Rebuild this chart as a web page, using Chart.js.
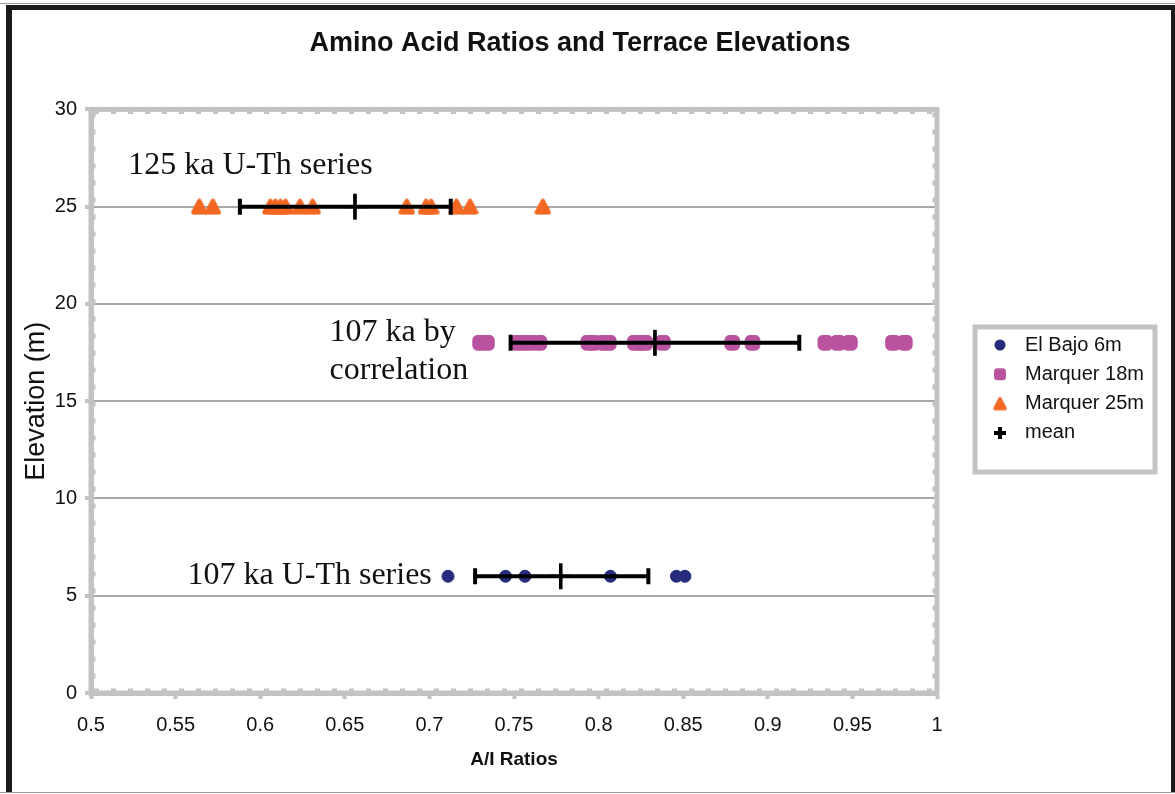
<!DOCTYPE html>
<html>
<head>
<meta charset="utf-8">
<script src="https://cdn.jsdelivr.net/npm/chart.js@4"></script>
<style>
  html, body { margin: 0; padding: 0; background: #fff; }
  #wrap { width: 1175px; height: 794px; position: relative; }
</style>
</head>
<body>
<div id="wrap"><canvas id="chart" width="1175" height="794"></canvas></div>
<script>
// A/I ratios, one array per terrace
const elBajo6m = [0.711, 0.745, 0.7565, 0.807, 0.846, 0.851]
const marquer18m = [0.730, 0.734, 0.752, 0.7555, 0.760, 0.765, 0.794, 0.797, 0.803, 0.806,
  0.8215, 0.8245, 0.8275, 0.838, 0.879, 0.891, 0.934, 0.9415, 0.9485, 0.974, 0.981]
const marquer25m = [0.564, 0.572, 0.606, 0.609, 0.612, 0.615, 0.6235, 0.631, 0.6866, 0.698, 0.701, 0.716, 0.724, 0.767]

// terrace elevations (m) for El Bajo 6m, Marquer 18m, Marquer 25m
const terraceElev = [6, 18, 25]

// mean and spread per terrace (same order)
const meanRatio = [0.7776, 0.8333, 0.656]
const meanLow = [0.727, 0.748, 0.588]
const meanHigh = [0.8294, 0.9186, 0.7126]

const xTicks = [0.5, 0.55, 0.6, 0.65, 0.7, 0.75, 0.8, 0.85, 0.9, 0.95, 1]

const seriesNames = ['El Bajo 6m', 'Marquer 18m', 'Marquer 25m', 'mean']
const seriesColors = ['#262b7c', '#b9529f', '#f26722', '#000000']

const annotations = [
  { lines: ['125 ka U-Th series'], x: 0.522, y: 27.1 },
  { lines: ['107 ka by', 'correlation'], x: 0.641, y: 18.55 },
  { lines: ['107 ka U-Th series'], x: 0.557, y: 6.05 }
]

const toPoints = (xs, elev) => xs.map(x => ({ x: x, y: elev }))

const GRAY = '#c3c3c3'
const SANS = '"Liberation Sans", Arial, sans-serif'

// rounded triangle marker used by Marquer 25m
function roundedTriangle(size, color) {
  const c = document.createElement('canvas')
  c.width = size; c.height = size
  const g = c.getContext('2d')
  g.fillStyle = color
  g.strokeStyle = color
  g.lineJoin = 'round'
  g.lineWidth = size * 0.26
  g.beginPath()
  g.moveTo(size / 2, size * 0.16)
  g.lineTo(size * 0.85, size * 0.84)
  g.lineTo(size * 0.15, size * 0.84)
  g.closePath()
  g.fill(); g.stroke()
  return c
}
const orangeMarker = roundedTriangle(17, seriesColors[2])
const orangeLegendMarker = roundedTriangle(14, seriesColors[2])

// white sheet + black frame like the scanned figure
const framePlugin = {
  id: 'frame',
  beforeDraw(chart) {
    const ctx = chart.ctx
    ctx.save()
    ctx.fillStyle = '#fff'
    ctx.fillRect(0, 0, chart.width, chart.height)
    ctx.fillStyle = '#9a9a9a'
    ctx.fillRect(0, 3, chart.width, 1)
    ctx.fillRect(0, 792, chart.width, 1)
    ctx.fillStyle = '#1a1a1a'
    ctx.fillRect(6, 5, chart.width - 6, 5)
    ctx.fillRect(6, 5, 6, chart.height - 7)
    ctx.fillRect(chart.width - 4, 5, 4, chart.height - 7)
    ctx.restore()
  },
  afterDraw(chart) {
    // plot area border (gray, with small dashes inside)
    const a = chart.chartArea
    const ctx = chart.ctx
    ctx.save()
    ctx.strokeStyle = GRAY
    ctx.lineWidth = 5
    ctx.strokeRect(a.left, a.top, a.right - a.left, a.bottom - a.top)
    ctx.lineWidth = 3
    ctx.setLineDash([5, 12])
    ctx.beginPath()
    ctx.moveTo(a.left + 3, a.bottom - 3); ctx.lineTo(a.right - 3, a.bottom - 3)
    ctx.moveTo(a.left + 3, a.top + 3); ctx.lineTo(a.right - 3, a.top + 3)
    ctx.moveTo(a.left + 3, a.top + 3); ctx.lineTo(a.left + 3, a.bottom - 3)
    ctx.moveTo(a.right - 3, a.top + 3); ctx.lineTo(a.right - 3, a.bottom - 3)
    ctx.stroke()
    ctx.restore()
  }
}

// horizontal error bars for the mean series
const errorBarPlugin = {
  id: 'errorBars',
  afterDatasetsDraw(chart) {
    const ctx = chart.ctx
    const xs = chart.scales.x, ys = chart.scales.y
    ctx.save()
    ctx.strokeStyle = '#000'
    meanRatio.forEach((m, i) => {
      const y = ys.getPixelForValue(terraceElev[i])
      const x0 = xs.getPixelForValue(meanLow[i])
      const x1 = xs.getPixelForValue(meanHigh[i])
      ctx.lineWidth = 4
      ctx.beginPath()
      ctx.moveTo(x0, y); ctx.lineTo(x1, y)
      ctx.moveTo(x0, y - 8); ctx.lineTo(x0, y + 8)
      ctx.moveTo(x1, y - 8); ctx.lineTo(x1, y + 8)
      ctx.stroke()
      const xm = xs.getPixelForValue(m)
      ctx.lineWidth = 3.5
      ctx.beginPath()
      ctx.moveTo(xm, y - 13); ctx.lineTo(xm, y + 13)
      ctx.stroke()
    })
    ctx.restore()
  }
}

// serif text labels on the plot
const notePlugin = {
  id: 'notes',
  afterDraw(chart) {
    const ctx = chart.ctx
    const xs = chart.scales.x, ys = chart.scales.y
    ctx.save()
    ctx.fillStyle = '#111'
    ctx.font = '32px "Liberation Serif", "Times New Roman", serif'
    ctx.textBaseline = 'middle'
    ctx.textAlign = 'left'
    annotations.forEach(n => {
      const x = xs.getPixelForValue(n.x)
      const y = ys.getPixelForValue(n.y)
      n.lines.forEach((t, k) => ctx.fillText(t, x, y + k * 38))
    })
    ctx.restore()
  }
}

// boxed legend on the right
const legendPlugin = {
  id: 'boxLegend',
  afterDraw(chart) {
    const ctx = chart.ctx
    const bx = 975, by = 327, bw = 180, bh = 145
    ctx.save()
    ctx.strokeStyle = GRAY
    ctx.lineWidth = 5
    ctx.strokeRect(bx, by, bw, bh)
    ctx.font = '20px ' + SANS
    ctx.textBaseline = 'middle'
    seriesNames.forEach((name, i) => {
      const y = 345 + i * 29.3
      const c = seriesColors[i]
      ctx.fillStyle = c
      ctx.strokeStyle = c
      ctx.lineWidth = 1
      ctx.beginPath()
      if (i === 0) { ctx.arc(1000, y, 5.5, 0, Math.PI * 2); ctx.fill() }
      else if (i === 1) { ctx.roundRect(994, y - 6, 12, 12, 3.5); ctx.fill() }
      else if (i === 2) { ctx.drawImage(orangeLegendMarker, 993, y - 7) }
      else {
        ctx.lineWidth = 4
        ctx.moveTo(1000, y - 6); ctx.lineTo(1000, y + 6)
        ctx.moveTo(994, y); ctx.lineTo(1006, y)
        ctx.stroke()
      }
      ctx.fillStyle = '#111'
      ctx.fillText(name, 1025, y)
    })
    ctx.restore()
  }
}

new Chart(document.getElementById('chart'), {
  type: 'scatter',
  data: {
    datasets: [
      {
        label: seriesNames[0],
        data: toPoints(elBajo6m, terraceElev[0]),
        pointStyle: 'circle', pointRadius: 6, pointHoverRadius: 6,
        backgroundColor: seriesColors[0], borderColor: seriesColors[0], borderWidth: 1
      },
      {
        label: seriesNames[1],
        data: toPoints(marquer18m, terraceElev[1]),
        pointStyle: 'rectRounded', pointRadius: 8.5, pointHoverRadius: 8.5,
        backgroundColor: seriesColors[1], borderColor: seriesColors[1], borderWidth: 1
      },
      {
        label: seriesNames[2],
        data: toPoints(marquer25m, terraceElev[2]),
        pointStyle: orangeMarker, pointRadius: 8, pointHoverRadius: 8,
        backgroundColor: seriesColors[2], borderColor: seriesColors[2]
      },
      {
        label: seriesNames[3],
        data: meanRatio.map((m, i) => ({ x: m, y: terraceElev[i] })),
        pointStyle: 'cross', pointRadius: 12, pointHoverRadius: 12,
        borderColor: '#000', borderWidth: 3
      }
    ]
  },
  options: {
    responsive: false,
    animation: false,
    events: [],
    layout: { padding: { left: 12, right: 27, top: 10, bottom: 8 } },
    plugins: {
      legend: { display: false },
      tooltip: { enabled: false },
      title: {
        display: true,
        text: 'Amino Acid Ratios and Terrace Elevations',
        color: '#111',
        font: { family: SANS, size: 27, weight: 'bold' },
        padding: { top: 17, bottom: 50 }
      }
    },
    scales: {
      x: {
        type: 'linear',
        min: 0.5, max: 1,
        afterBuildTicks: s => { s.ticks = xTicks.map(v => ({ value: v })) },
        afterFit: s => { s.height = 93 },
        ticks: {
          color: '#111',
          padding: 14,
          font: { family: SANS, size: 20 },
          callback: v => String(+v.toFixed(2))
        },
        grid: { drawOnChartArea: false, tickColor: GRAY, tickWidth: 4, tickLength: 6 },
        border: { color: GRAY, width: 5 },
        title: {
          display: true,
          text: 'A/I Ratios',
          color: '#111',
          font: { family: SANS, size: 19, weight: 'bold' },
          padding: { top: 0, bottom: 15 }
        }
      },
      y: {
        min: 0, max: 30,
        afterFit: s => { s.width = 79 },
        ticks: {
          stepSize: 5,
          color: '#111',
          padding: 8,
          font: { family: SANS, size: 20 }
        },
        grid: { color: '#a8a8a8', lineWidth: 2, tickColor: GRAY, tickWidth: 4, tickLength: 6 },
        border: { color: GRAY, width: 5 },
        title: {
          display: true,
          text: 'Elevation (m)',
          color: '#111',
          font: { family: SANS, size: 27 },
          padding: { top: 8, bottom: 0 }
        }
      },
      // empty right-hand axis that reserves the legend column
      side: {
        type: 'linear',
        position: 'right',
        afterFit: s => { s.width = 211 },
        ticks: { display: false },
        grid: { drawOnChartArea: false, drawTicks: false },
        border: { display: false }
      }
    }
  },
  plugins: [framePlugin, errorBarPlugin, notePlugin, legendPlugin]
})
</script>
</body>
</html>
